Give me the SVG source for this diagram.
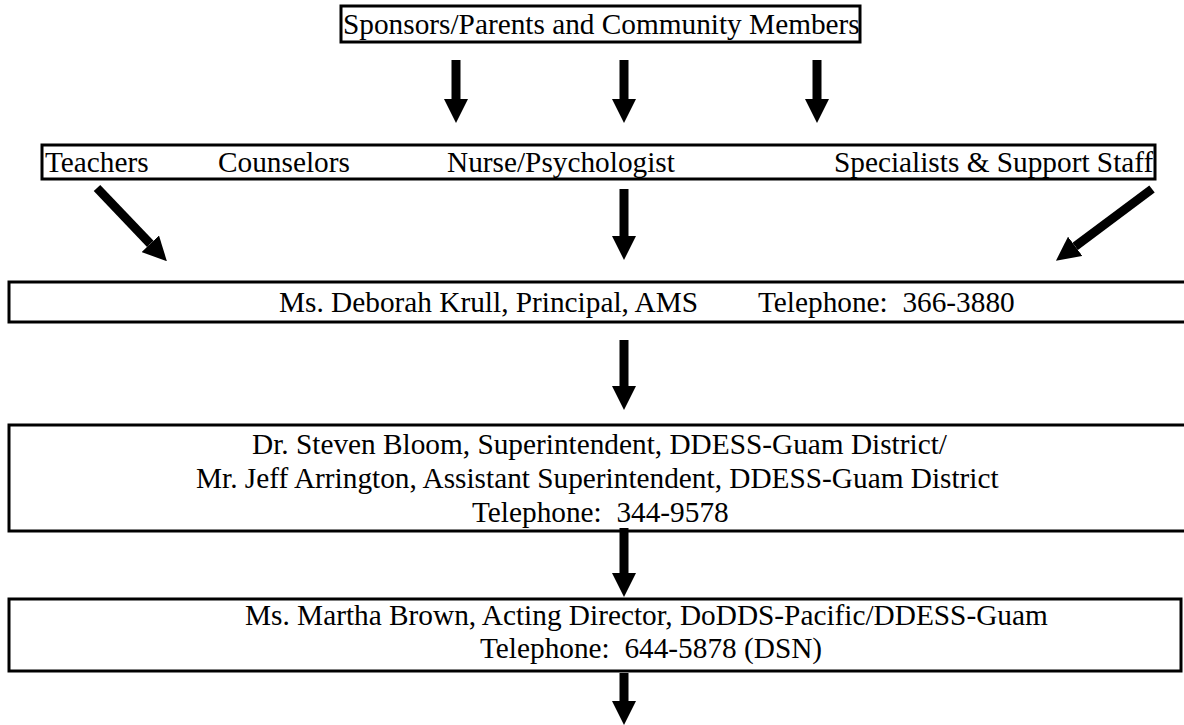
<svg xmlns="http://www.w3.org/2000/svg" width="1184" height="725" viewBox="0 0 1184 725">
<style>
.box{fill:#fff;stroke:#000;stroke-width:3}
.t{font-family:"Liberation Serif","Times New Roman",serif;font-size:29.3px;fill:#000}
.arr{stroke:#000;stroke-width:9;fill:none;marker-end:url(#ah)}
</style>
<defs>
<marker id="ah" markerUnits="userSpaceOnUse" viewBox="0 0 24 24" markerWidth="24" markerHeight="24" refX="0" refY="12" orient="auto">
<path d="M0,0 L24,12 L0,24 Z" fill="#000"/>
</marker>
</defs>
<rect width="1184" height="725" fill="#fff"/>
<g id="sponsors">
<rect class="box" x="341" y="6" width="519" height="36"/>
<text class="t" x="343" y="34">Sponsors/Parents and Community Members</text>
</g>
<g id="staff">
<rect class="box" x="42" y="145" width="1113" height="34"/>
<text class="t" x="45" y="172">Teachers</text>
<text class="t" x="218" y="172">Counselors</text>
<text class="t" x="447" y="172">Nurse/Psychologist</text>
<text class="t" x="834" y="172">Specialists &amp; Support Staff</text>
</g>
<g id="principal">
<rect class="box" x="9" y="282" width="1190" height="40"/>
<text class="t" x="279" y="312">Ms. Deborah Krull, Principal, AMS</text>
<text class="t" x="758" y="312" xml:space="preserve">Telephone:  366-3880</text>
</g>
<g id="superintendent">
<rect class="box" x="9" y="425" width="1190" height="106"/>
<text class="t" x="252" y="454">Dr. Steven Bloom, Superintendent, DDESS-Guam District/</text>
<text class="t" x="196" y="488">Mr. Jeff Arrington, Assistant Superintendent, DDESS-Guam District</text>
<text class="t" x="472" y="522" xml:space="preserve">Telephone:  344-9578</text>
</g>
<g id="director">
<rect class="box" x="9" y="599" width="1172" height="72"/>
<text class="t" x="245" y="625">Ms. Martha Brown, Acting Director, DoDDS-Pacific/DDESS-Guam</text>
<text class="t" x="480" y="658" xml:space="preserve">Telephone:  644-5878 (DSN)</text>
</g>
<g id="connectors">
<line class="arr" x1="456" y1="60" x2="456" y2="99"/>
<line class="arr" x1="624" y1="60" x2="624" y2="99"/>
<line class="arr" x1="817" y1="60" x2="817" y2="99"/>
<line class="arr" x1="97" y1="188" x2="150.3" y2="243.8"/>
<line class="arr" x1="624" y1="189" x2="624" y2="236"/>
<line class="arr" x1="1152" y1="189" x2="1075.2" y2="246.3"/>
<line class="arr" x1="624" y1="340" x2="624" y2="386"/>
<line class="arr" x1="624" y1="528" x2="624" y2="573"/>
<line class="arr" x1="624" y1="673" x2="624" y2="701"/>
</g>
</svg>
